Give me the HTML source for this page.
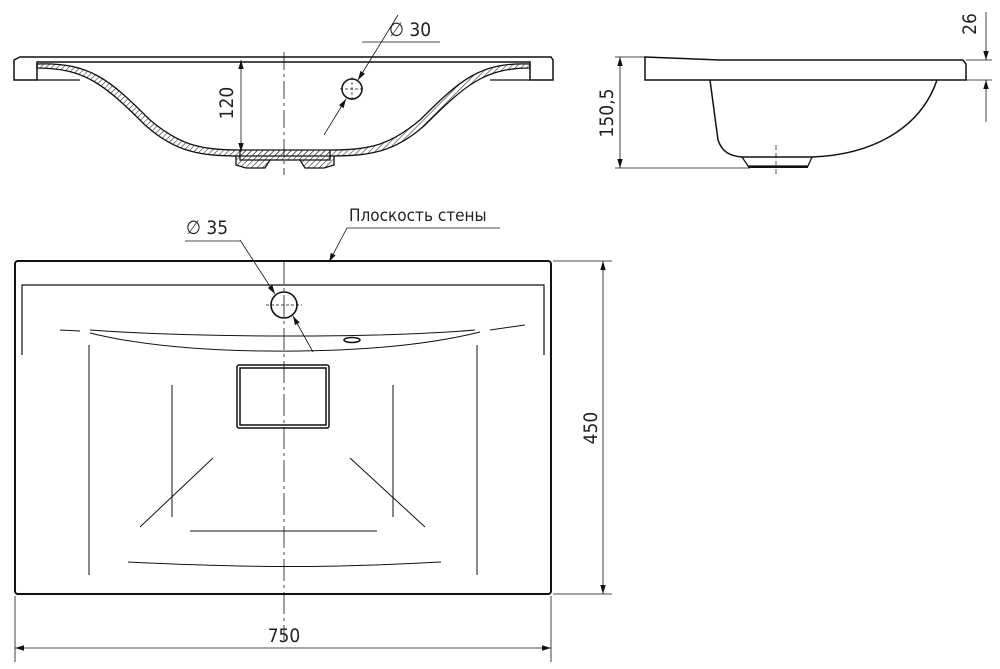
<!DOCTYPE html>
<html><head><meta charset="utf-8"><style>
html,body{margin:0;padding:0;background:#fff}
svg{display:block}
text{font-family:"DejaVu Sans Condensed","Liberation Sans Narrow","Liberation Sans",sans-serif;fill:#222}
</style></head><body>
<svg width="1000" height="669" viewBox="0 0 1000 669" xmlns="http://www.w3.org/2000/svg">
<defs>
<pattern id="h" width="4" height="4" patternUnits="userSpaceOnUse" patternTransform="rotate(45)"><line x1="0" y1="0" x2="0" y2="4" stroke="#333" stroke-width="1.2"/></pattern>
<marker id="a" viewBox="0 0 10 10" refX="10" refY="5" markerWidth="9" markerHeight="9" orient="auto-start-reverse" markerUnits="userSpaceOnUse"><path d="M0,2 L10,5 L0,8 z" fill="#111"/></marker>
</defs>
<g fill="none" stroke="#111" stroke-width="1.6">
<!-- top section view -->
<path d="M20,57 L551,57 L553,60 L553,80 L530,80 L530,62 L37,62 L37,80 L14,80 L14,60 Z" stroke-width="1.5"/>
<line x1="37" y1="62" x2="530" y2="62" stroke-width="1"/>
<path d="M37,64 C90,62 110,80 150,120 C180,145 200,150 240,150 L330,150 C370,150 390,145 420,120 C460,80 480,62 530,64 L530,68 C485,68 465,85 425,125 C395,152 370,156 330,156 L240,156 C200,156 175,152 145,125 C105,85 85,68 37,68 Z" fill="url(#h)" stroke-width="1.3"/>
<path d="M37,80 L80,80" stroke-width="1.2"/><path d="M490,80 L530,80" stroke-width="1.2"/>
<path d="M240,150 L240,160 L330,160 L330,150 M236,156 L236,165 L246,168 L265,168 L270,160 M300,160 L305,168 L324,168 L334,165 L334,156" fill="url(#h)" stroke-width="1.3"/>
<line x1="284" y1="52" x2="284" y2="175" stroke-width="0.8" stroke-dasharray="18,4,3,4"/>
<circle cx="352" cy="89" r="10" stroke-width="1.5"/>
<line x1="340" y1="89" x2="364" y2="89" stroke-width="0.7" stroke-dasharray="3,2"/>
<line x1="352" y1="77" x2="352" y2="101" stroke-width="0.7" stroke-dasharray="3,2"/>
<line x1="398" y1="15" x2="358" y2="80" stroke-width="0.8" marker-end="url(#a)"/>
<line x1="324" y1="135" x2="346" y2="99" stroke-width="0.8" marker-end="url(#a)"/>
<line x1="362" y1="42" x2="440" y2="42" stroke-width="0.8"/>
<line x1="241" y1="60" x2="241" y2="152" stroke-width="0.8" marker-start="url(#a)" marker-end="url(#a)"/>
<!-- side view -->
<path d="M645,57 L720,60 L963,60 L966,64 L966,80 L645,80 Z" stroke-width="1.5"/>
<path d="M710,80 L718,140 C722,152 730,156 742,157 L812,157 C870,155 920,130 937,80" stroke-width="1.5"/>
<path d="M742,157 L748,166 L808,166 L812,157" stroke-width="1.3"/>
<line x1="748" y1="167" x2="808" y2="167" stroke-width="2"/>
<line x1="776" y1="145" x2="776" y2="175" stroke-width="0.7" stroke-dasharray="5,3"/>
<line x1="615" y1="57" x2="645" y2="57" stroke-width="0.8"/>
<line x1="615" y1="168" x2="750" y2="168" stroke-width="0.8"/>
<line x1="620" y1="57" x2="620" y2="168" stroke-width="0.8" marker-start="url(#a)" marker-end="url(#a)"/>
<line x1="966" y1="60" x2="992" y2="60" stroke-width="0.8"/>
<line x1="966" y1="80" x2="992" y2="80" stroke-width="0.8"/>
<line x1="986" y1="12" x2="986" y2="60" stroke-width="0.8" marker-end="url(#a)"/>
<line x1="986" y1="122" x2="986" y2="80" stroke-width="0.8" marker-end="url(#a)"/>
<!-- plan view -->
<rect x="15" y="261" width="536" height="333" rx="3" stroke-width="2"/>
<path d="M22,355 L22,285 L544,285 L544,355" stroke-width="1.2"/>
<path d="M60,330 L80,331 M90,330 C200,338 380,338 475,330 M490,330 L525,325" stroke-width="1"/>
<path d="M90,333 C150,348 230,352 300,351 C380,350 440,342 480,332" stroke-width="1"/>
<ellipse cx="352" cy="340" rx="8" ry="2.5" stroke-width="1.5"/>
<rect x="237" y="365" width="92" height="63" rx="2" stroke-width="1.5"/>
<rect x="240" y="368" width="86" height="57" stroke-width="1.5"/>
<line x1="89" y1="345" x2="89" y2="575" stroke-width="1"/>
<line x1="172" y1="385" x2="172" y2="517" stroke-width="1"/>
<line x1="393" y1="385" x2="393" y2="517" stroke-width="1"/>
<line x1="477" y1="345" x2="477" y2="575" stroke-width="1"/>
<line x1="213" y1="458" x2="140" y2="527" stroke-width="1"/>
<line x1="350" y1="458" x2="425" y2="527" stroke-width="1"/>
<line x1="190" y1="531" x2="377" y2="531" stroke-width="1"/>
<path d="M128,562 C250,568 330,568 441,562" stroke-width="1"/>
<line x1="284" y1="262" x2="284" y2="640" stroke-width="0.8" stroke-dasharray="22,4,3,4"/>
<circle cx="284" cy="305" r="13" stroke-width="1.6"/>
<line x1="266" y1="305" x2="302" y2="305" stroke-width="0.7" stroke-dasharray="3,2"/>
<line x1="240" y1="240" x2="275" y2="294" stroke-width="0.8" marker-end="url(#a)"/>
<line x1="313" y1="352" x2="293" y2="316" stroke-width="0.8" marker-end="url(#a)"/>
<line x1="185" y1="241" x2="240" y2="241" stroke-width="0.8"/>
<line x1="347" y1="228" x2="500" y2="228" stroke-width="0.8"/>
<line x1="347" y1="228" x2="329" y2="262" stroke-width="0.8" marker-end="url(#a)"/>
<line x1="15" y1="596" x2="15" y2="662" stroke-width="0.8"/>
<line x1="551" y1="596" x2="551" y2="662" stroke-width="0.8"/>
<line x1="15" y1="648" x2="551" y2="648" stroke-width="0.8" marker-start="url(#a)" marker-end="url(#a)"/>
<line x1="553" y1="261" x2="612" y2="261" stroke-width="0.8"/>
<line x1="553" y1="594" x2="612" y2="594" stroke-width="0.8"/>
<line x1="603" y1="261" x2="603" y2="594" stroke-width="0.8" marker-start="url(#a)" marker-end="url(#a)"/>
</g>
<g font-size="19">
<text x="389" y="36">∅ 30</text>
<text x="186" y="234">∅ 35</text>
<text x="349" y="221" font-size="17">Плоскость стены</text>
<text x="284" y="642" text-anchor="middle">750</text>
<text transform="translate(597,428) rotate(-90)" text-anchor="middle">450</text>
<text transform="translate(233,103) rotate(-90)" text-anchor="middle">120</text>
<text transform="translate(613,113) rotate(-90)" text-anchor="middle">150,5</text>
<text transform="translate(976,24) rotate(-90)" text-anchor="middle">26</text>
</g>
</svg>
</body></html>
